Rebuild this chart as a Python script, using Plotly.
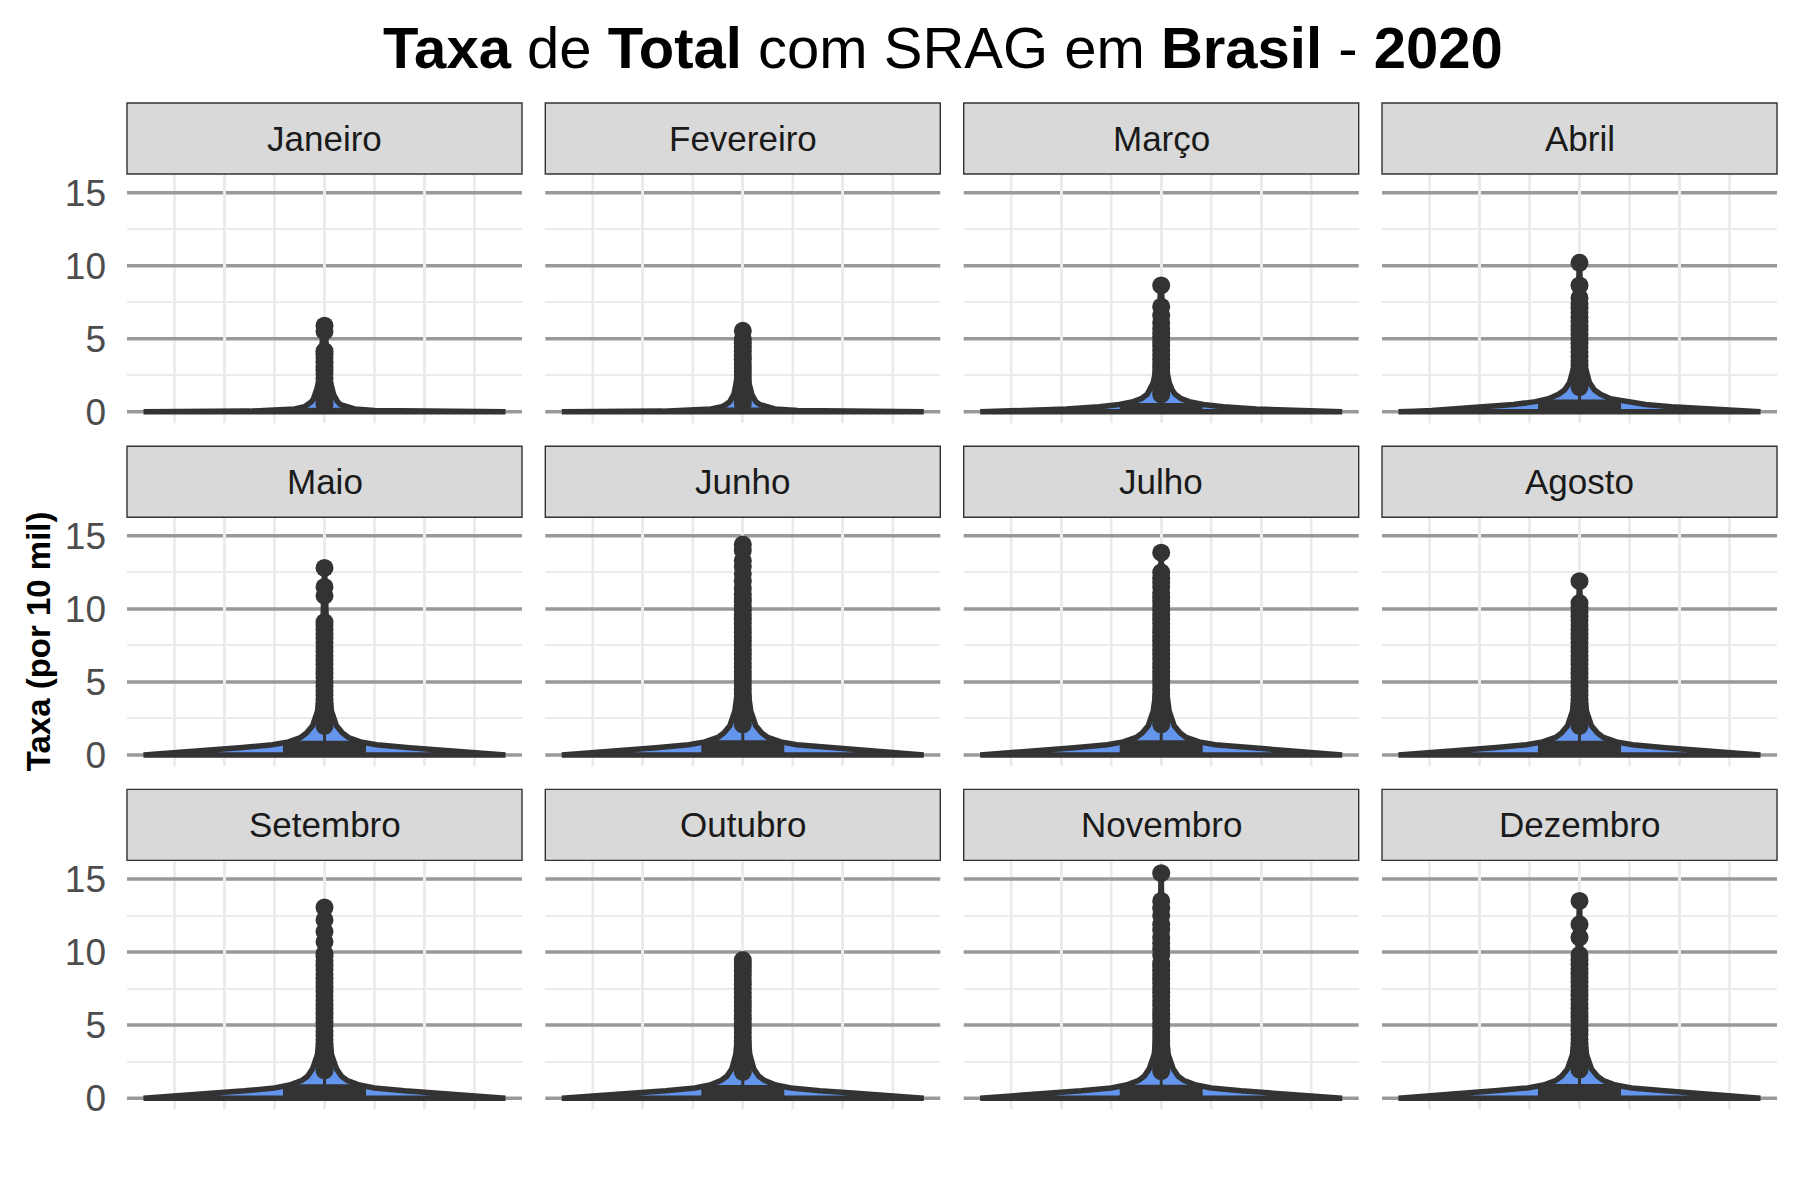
import plotly.graph_objects as go

# ---------------- data ----------------
MONTHS = ["Janeiro", "Fevereiro", "Março", "Abril", "Maio", "Junho",
          "Julho", "Agosto", "Setembro", "Outubro", "Novembro", "Dezembro"]

Y_TICKS = [0, 5, 10, 15]
Y_MINOR = [2.5, 7.5, 12.5]

# boxplot statistics (Taxa por 10 mil)
Q1 = [0.0, 0.0, 0.0, 0.02, 0.03, 0.04, 0.04, 0.04, 0.03, 0.03, 0.03, 0.03]
MEDIAN = [0.05, 0.05, 0.15, 0.25, 0.30, 0.32, 0.33, 0.31, 0.28, 0.26, 0.27, 0.29]
Q3 = [0.18, 0.20, 0.50, 0.75, 0.88, 0.90, 0.90, 0.88, 0.85, 0.80, 0.82, 0.86]
LOWER = [0.0, 0.0, 0.0, 0.0, 0.0, 0.0, 0.0, 0.0, 0.0, 0.0, 0.0, 0.0]
UPPER = [0.45, 0.50, 1.10, 1.60, 1.90, 2.00, 2.00, 1.90, 1.80, 1.70, 1.75, 1.85]

# outliers
OUT_JAN = [0.5, 0.7, 0.95, 1.2, 1.45, 1.75, 2.0, 2.3, 2.6, 2.85, 3.1, 3.4, 3.7, 3.95, 4.15, 5.5, 5.9]
OUT_FEB = [0.55, 0.8, 1.05, 1.35, 1.6, 1.9, 2.2, 2.45, 2.75, 3.0, 3.3, 3.6, 3.85, 4.15, 4.45, 4.7, 5.0, 5.55]
OUT_MAR = [1.2, 1.5, 1.8, 2.1, 2.4, 2.7, 3.0, 3.3, 3.6, 3.9, 4.2, 4.5, 4.8, 5.1, 5.4, 5.7, 6.1, 6.6, 7.2, 8.65]
OUT_APR = [1.7, 2.0, 2.3, 2.6, 2.9, 3.2, 3.5, 3.8, 4.1, 4.4, 4.7, 5.0, 5.3, 5.6, 5.9, 6.2, 6.5,
           6.8, 7.1, 7.4, 7.8, 8.65, 10.2]
OUT_MAI = [2.0, 2.3, 2.6, 2.9, 3.2, 3.5, 3.8, 4.1, 4.4, 4.7, 5.0, 5.3, 5.6, 5.9, 6.2, 6.5, 6.8,
           7.1, 7.4, 7.7, 8.0, 8.3, 8.6, 8.9, 9.1, 10.9, 11.5, 12.8]
OUT_JUN = [2.1, 2.4, 2.7, 3.0, 3.3, 3.6, 3.9, 4.2, 4.5, 4.8, 5.1, 5.4, 5.7, 6.0, 6.3, 6.6, 6.9,
           7.2, 7.5, 7.8, 8.1, 8.4, 8.7, 9.0, 9.3, 9.6, 9.9, 10.2, 10.5, 10.7, 11.0, 11.4,
           11.9, 12.4, 12.9, 13.3, 14.0, 14.4]
OUT_JUL = [2.1, 2.4, 2.7, 3.0, 3.3, 3.6, 3.9, 4.2, 4.5, 4.8, 5.1, 5.4, 5.7, 6.0, 6.3, 6.6, 6.9,
           7.2, 7.5, 7.8, 8.1, 8.4, 8.7, 9.0, 9.3, 9.6, 9.9, 10.2, 10.5, 10.8, 11.1, 11.5,
           11.8, 12.1, 12.5, 13.85]
OUT_AGO = [2.0, 2.3, 2.6, 2.9, 3.2, 3.5, 3.8, 4.1, 4.4, 4.7, 5.0, 5.3, 5.6, 5.9, 6.2, 6.5, 6.8,
           7.1, 7.4, 7.7, 8.0, 8.3, 8.6, 8.9, 9.2, 9.5, 9.8, 10.1, 10.4, 11.9]
OUT_SET = [1.9, 2.2, 2.5, 2.8, 3.1, 3.4, 3.7, 4.0, 4.3, 4.6, 4.9, 5.2, 5.5, 5.8, 6.1, 6.4, 6.7,
           7.0, 7.3, 7.6, 7.9, 8.2, 8.5, 8.8, 9.1, 9.4, 9.7, 9.9, 10.7, 11.4, 12.2, 13.05]
OUT_OUT = [1.8, 2.1, 2.4, 2.7, 3.0, 3.3, 3.6, 3.9, 4.2, 4.5, 4.8, 5.1, 5.4, 5.7, 6.0, 6.3, 6.6,
           6.9, 7.2, 7.5, 7.8, 8.1, 8.4, 8.7, 9.0, 9.2, 9.45]
OUT_NOV = [1.85, 2.15, 2.45, 2.75, 3.05, 3.35, 3.65, 3.95, 4.25, 4.55, 4.85, 5.15, 5.45, 5.75,
           6.05, 6.35, 6.65, 6.95, 7.25, 7.55, 7.85, 8.15, 8.45, 8.75, 9.05, 9.25, 9.8, 10.2,
           10.6, 11.0, 11.5, 11.9, 12.5, 13.0, 13.5, 15.4]
OUT_DEZ = [1.95, 2.25, 2.55, 2.85, 3.15, 3.45, 3.75, 4.05, 4.35, 4.65, 4.95, 5.25, 5.55, 5.85,
           6.15, 6.45, 6.75, 7.05, 7.35, 7.65, 7.95, 8.25, 8.55, 8.85, 9.15, 9.45, 9.8, 11.0,
           11.9, 13.5]

OUTLIERS = [OUT_JAN, OUT_FEB, OUT_MAR, OUT_APR, OUT_MAI, OUT_JUN,
            OUT_JUL, OUT_AGO, OUT_SET, OUT_OUT, OUT_NOV, OUT_DEZ]

# violin density profile: half-width at each height (scale = width)
DENS_Y = [0, 0.05, 0.1, 0.2, 0.35, 0.5, 0.7, 0.9, 1.2, 1.5, 2.0, 3.0, 5.0, 8.0]
HW_JAN = [1.81, 0.75, 0.50, 0.30, 0.20, 0.16, 0.13, 0.11, 0.09, 0.08, 0.06, 0.04, 0.02, 0.0]
HW_FEB = [1.81, 0.80, 0.55, 0.32, 0.21, 0.17, 0.13, 0.11, 0.09, 0.08, 0.06, 0.04, 0.02, 0.0]
HW_MAR = [1.81, 1.55, 1.30, 0.95, 0.62, 0.42, 0.28, 0.20, 0.14, 0.11, 0.08, 0.05, 0.03, 0.01]
HW_APR = [1.81, 1.65, 1.48, 1.22, 0.92, 0.66, 0.44, 0.31, 0.21, 0.15, 0.10, 0.06, 0.03, 0.015]
HW_MAI = [1.81, 1.70, 1.60, 1.40, 1.18, 0.85, 0.52, 0.36, 0.24, 0.18, 0.12, 0.07, 0.04, 0.02]
HW_JUN = [1.81, 1.71, 1.61, 1.42, 1.20, 0.87, 0.54, 0.38, 0.25, 0.19, 0.13, 0.08, 0.04, 0.02]
HW_JUL = [1.81, 1.71, 1.61, 1.42, 1.20, 0.87, 0.54, 0.38, 0.25, 0.19, 0.13, 0.08, 0.04, 0.02]
HW_AGO = [1.81, 1.70, 1.60, 1.41, 1.19, 0.86, 0.53, 0.37, 0.24, 0.18, 0.12, 0.07, 0.04, 0.02]
HW_SET = [1.81, 1.69, 1.58, 1.38, 1.14, 0.80, 0.50, 0.35, 0.23, 0.17, 0.12, 0.07, 0.04, 0.02]
HW_OUT = [1.81, 1.68, 1.56, 1.35, 1.10, 0.77, 0.48, 0.33, 0.22, 0.16, 0.11, 0.07, 0.04, 0.02]
HW_NOV = [1.81, 1.69, 1.58, 1.38, 1.14, 0.80, 0.50, 0.35, 0.23, 0.17, 0.12, 0.07, 0.04, 0.02]
HW_DEZ = [1.81, 1.70, 1.60, 1.40, 1.18, 0.85, 0.52, 0.36, 0.24, 0.18, 0.12, 0.07, 0.04, 0.02]

HALF_WIDTHS = [HW_JAN, HW_FEB, HW_MAR, HW_APR, HW_MAI, HW_JUN,
               HW_JUL, HW_AGO, HW_SET, HW_OUT, HW_NOV, HW_DEZ]

# ---------------- layout geometry (pixels) ----------------
W, H = 1800, 1200
H_EFF = 1188.5          # measured height of the paper area once rendered
COL_LEFT = [127, 545.3, 963.7, 1382]
PANEL_W = 395
ROW_STRIP_TOP = [102, 445, 788]
STRIP_H = 71
PANEL_H = 249
BOX_HALF = 0.4

FONT = "Liberation Sans"
VIOLIN_FILL = "#6495ED"
DARK = "#333333"


def fy(px):
    """pixel row (from top) -> paper fraction"""
    return 1 - px / H_EFF


fig = go.Figure()
shapes = []
annotations = []
layout_axes = {}

for i, month in enumerate(MONTHS):
    r, c = divmod(i, 4)
    n = i + 1
    xa = "x" if n == 1 else f"x{n}"
    ya = "y" if n == 1 else f"y{n}"
    xkey = "xaxis" if n == 1 else f"xaxis{n}"
    ykey = "yaxis" if n == 1 else f"yaxis{n}"

    px0 = COL_LEFT[c]
    px1 = px0 + PANEL_W
    ptop = ROW_STRIP_TOP[r] + STRIP_H
    pbot = ptop + PANEL_H

    layout_axes[xkey] = dict(
        domain=[px0 / W, px1 / W], anchor=ya, range=[-1.975, 1.975],
        tickvals=[-1, 0, 1], showticklabels=False, ticks="",
        showgrid=True, gridcolor="#EBEBEB", gridwidth=2.7,
        zeroline=False, showline=False, fixedrange=True,
    )
    layout_axes[ykey] = dict(
        domain=[fy(pbot), fy(ptop)], anchor=xa, range=[-0.775, 16.275],
        tickvals=Y_TICKS, showticklabels=(c == 0), ticks="",
        ticklabelstandoff=20,
        tickfont=dict(family=FONT, size=37, color="#4D4D4D"),
        showgrid=False, zeroline=False, showline=False, fixedrange=True,
        minor=dict(tickvals=Y_MINOR, showgrid=True, gridcolor="#EBEBEB", gridwidth=2),
    )

    # minor vertical grid lines (drawn beneath the major horizontals)
    for xv in [-1.5, -0.5, 0.5, 1.5]:
        shapes.append(dict(type="line", layer="below", xref=xa, yref=f"{ya} domain",
                           x0=xv, x1=xv, y0=0, y1=1,
                           line=dict(color="#EBEBEB", width=2.7)))
    # major horizontal grid lines
    for yv in Y_TICKS:
        shapes.append(dict(type="line", layer="below", xref=f"{xa} domain", yref=ya,
                           x0=0, x1=1, y0=yv, y1=yv,
                           line=dict(color="#999999", width=3.5)))

    # strip
    st = ROW_STRIP_TOP[r]
    shapes.append(dict(type="rect", xref="paper", yref="paper",
                       x0=px0 / W, x1=px1 / W, y0=fy(st + STRIP_H), y1=fy(st),
                       fillcolor="#D9D9D9", line=dict(color=DARK, width=1.4), layer="above"))
    annotations.append(dict(text=month, xref="paper", yref="paper",
                            x=(px0 + px1) / 2 / W, y=fy(st + STRIP_H / 2),
                            xanchor="center", yanchor="middle", showarrow=False,
                            font=dict(family=FONT, size=35, color="#1A1A1A")))

    # violin (density outline)
    outs = OUTLIERS[i]
    vmax = max(outs)
    hw = HALF_WIDTHS[i]
    ys = [y for y in DENS_Y if y < vmax] + [vmax]
    ws = [hw[k] for k, y in enumerate(DENS_Y) if y < vmax] + [0.0]
    vx = ws + [-w for w in ws[::-1]] + [ws[0]]
    vy = ys + ys[::-1] + [ys[0]]
    fig.add_trace(go.Scatter(x=vx, y=vy, mode="lines", fill="toself",
                             fillcolor=VIOLIN_FILL, line=dict(color=DARK, width=5.5),
                             hoverinfo="skip", showlegend=False, xaxis=xa, yaxis=ya))

    # boxplot body Q1..Q3
    bx = [-BOX_HALF, BOX_HALF, BOX_HALF, -BOX_HALF, -BOX_HALF]
    by = [Q1[i], Q1[i], Q3[i], Q3[i], Q1[i]]
    fig.add_trace(go.Scatter(x=bx, y=by, mode="lines", fill="toself",
                             fillcolor=DARK, line=dict(color=DARK, width=3),
                             hoverinfo="skip", showlegend=False, xaxis=xa, yaxis=ya))
    # whiskers
    fig.add_trace(go.Scatter(x=[0, 0, None, 0, 0],
                             y=[Q3[i], UPPER[i], None, Q1[i], LOWER[i]],
                             mode="lines", line=dict(color=DARK, width=3),
                             hoverinfo="skip", showlegend=False, xaxis=xa, yaxis=ya))
    # median
    fig.add_trace(go.Scatter(x=[-BOX_HALF, BOX_HALF], y=[MEDIAN[i], MEDIAN[i]],
                             mode="lines", line=dict(color=DARK, width=3),
                             hoverinfo="skip", showlegend=False, xaxis=xa, yaxis=ya))
    # outliers
    fig.add_trace(go.Scatter(x=[0] * len(outs), y=outs, mode="markers",
                             marker=dict(size=18, color=DARK, line=dict(width=0)),
                             hoverinfo="skip", showlegend=False, xaxis=xa, yaxis=ya))

# title
annotations.append(dict(
    text="<b>Taxa</b> de <b>Total</b> com SRAG em <b>Brasil</b> - <b>2020</b>",
    xref="paper", yref="paper", x=942.5 / W, y=fy(46),
    xanchor="center", yanchor="middle", showarrow=False,
    font=dict(family=FONT, size=58, color="#000000")))

# y-axis title
annotations.append(dict(
    text="<b>Taxa (por 10 mil)</b>", textangle=-90,
    xref="paper", yref="paper", x=38 / W, y=fy(640),
    xanchor="center", yanchor="middle", showarrow=False,
    font=dict(family=FONT, size=33, color="#000000")))

fig.update_layout(
    width=W, height=H, margin=dict(l=0, r=0, t=0, b=0),
    paper_bgcolor="white", plot_bgcolor="white",
    showlegend=False, shapes=shapes, annotations=annotations,
    font=dict(family=FONT), **layout_axes,
)

fig.write_html("out.html")
